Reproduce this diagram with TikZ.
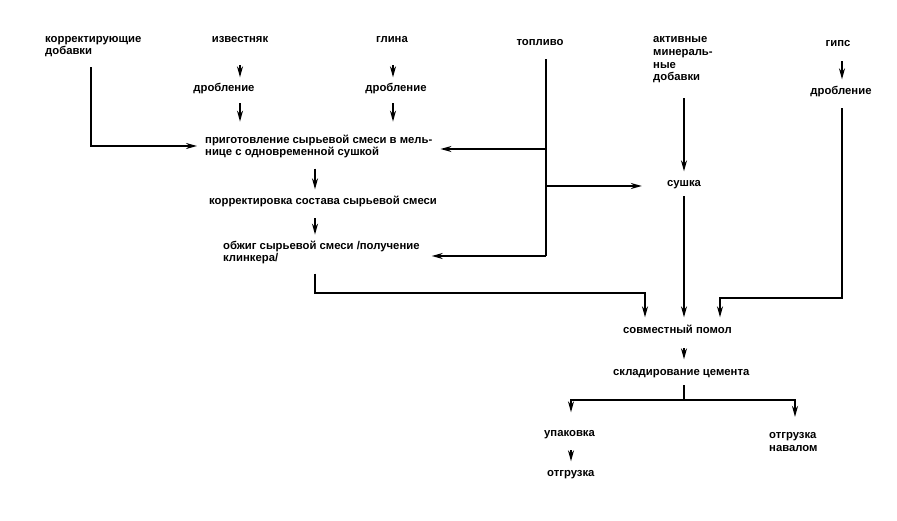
\documentclass[tikz,border=0pt]{standalone}
\usepackage{fontspec}
\setmainfont{Liberation Sans}
\usetikzlibrary{arrows.meta}
\begin{document}
\begin{tikzpicture}[x=1pt,y=-1pt,
  txt/.style={font=\fontsize{11.3}{12.8}\selectfont\bfseries, inner sep=0pt, align=left},
  one/.style={txt, text height=8.5pt, text depth=2.5pt},
  line/.style={line width=1.5pt},
  arr/.style={line width=1.5pt, -{Stealth[length=11pt,width=6pt]}}]
\useasboundingbox (0,0) rectangle (897,521);
% column coordinates
\coordinate (cA) at (91,0);
\coordinate (cB) at (240,0);
\coordinate (cC) at (393,0);
\coordinate (cD) at (315,0);
\coordinate (cT) at (546,0);
\coordinate (cE) at (684,0);
\coordinate (cF) at (842,0);
\coordinate (cG) at (645,0);
\coordinate (cH) at (720,0);
\coordinate (cL) at (571,0);
\coordinate (cR) at (795,0);
% nodes (multi-line nodes: base = baseline of last line)
\node[txt, anchor=base west] (korr) at (45,55) {корректирующие\\добавки};
\node[one, anchor=base] (izv) at (240,43) {известняк};
\node[one, anchor=base] (dr1) at (224,92) {дробление};
\node[one, anchor=base] (gl) at (392,43) {глина};
\node[one, anchor=base] (dr2) at (396,92) {дробление};
\node[one, anchor=base] (top) at (540,46) {топливо};
\node[txt, anchor=base west] (akt) at (653,81) {активные\\минераль-\\ные\\добавки};
\node[one, anchor=base] (gips) at (838,47) {гипс};
\node[one, anchor=base] (dr3) at (841,95) {дробление};
\node[txt, anchor=base west] (prig) at (205,156) {приготовление сырьевой смеси в мель-\\нице с одновременной сушкой};
\node[one, anchor=base west] (ksost) at (209,205) {корректировка состава сырьевой смеси};
\node[txt, anchor=base west] (obz) at (223,262) {обжиг сырьевой смеси /получение\\клинкера/};
\node[one, anchor=base] (sush) at (684,187) {сушка};
\node[one, anchor=base west] (sovm) at (623,334) {совместный помол};
\node[one, anchor=base west] (sklad) at (613,375) {складирование цемента};
\node[one, anchor=base west] (upak) at (544,436) {упаковка};
\node[one, anchor=base west] (otgr1) at (547,476) {отгрузка};
\node[txt, anchor=base west] (otgr2) at (769,451) {отгрузка\\навалом};
% junctions
\coordinate (k1) at (197,146);
\coordinate (t1) at (546,149);
\coordinate (t2) at (546,186);
\coordinate (t3) at (546,256);
\coordinate (h1) at (645,293);
\coordinate (g2) at (720,298);
\coordinate (s1) at (684,400);
% connectors
\draw[arr] ([yshift=-10pt]cA |- korr.south) |- (k1);
\draw[arr] ([yshift=-19.5pt]cB |- izv.south) -- ([yshift=6pt]cB |- dr1.north);
\draw[arr] ([yshift=-8.5pt]cB |- dr1.south) -- ([yshift=13pt]cB |- prig.north);
\draw[arr] ([yshift=-19.5pt]cC |- gl.south) -- ([yshift=6pt]cC |- dr2.north);
\draw[arr] ([yshift=-8.5pt]cC |- dr2.south) -- ([yshift=13pt]cC |- prig.north);
\draw[line] ([yshift=-10.5pt]cT |- top.south) -- (t3);
\draw[arr] (t1) -- ([xshift=8pt]t1 -| prig.east);
\draw[arr] (t2) -- ([xshift=-25pt]t2 -| sush.west);
\draw[arr] (t3) -- ([xshift=12pt]t3 -| obz.east);
\draw[arr] ([yshift=-15pt]cE |- akt.south) -- ([yshift=7pt]cE |- sush.north);
\draw[arr] ([yshift=-6.5pt]cE |- sush.south) -- ([yshift=8pt]cE |- sovm.north);
\draw[arr] ([yshift=-11.5pt]cF |- gips.south) -- ([yshift=7pt]cF |- dr3.north);
\draw[arr] ([yshift=-10.5pt]cF |- dr3.south) |- (g2) -- ([yshift=8pt]cH |- sovm.north);
\draw[arr] ([yshift=-10pt]cD |- prig.south) -- ([yshift=7pt]cD |- ksost.north);
\draw[arr] ([yshift=-10.5pt]cD |- ksost.south) -- ([yshift=6pt]cD |- obz.north);
\draw[arr] ([yshift=-9pt]cD |- obz.south) |- (h1) -- ([yshift=8pt]cG |- sovm.north);
\draw[arr] ([yshift=-11.5pt]cE |- sovm.south) -- ([yshift=7pt]cE |- sklad.north);
\draw[line] ([yshift=-7.5pt]cE |- sklad.south) -- (s1);
\draw[arr] (s1) -| ([yshift=15pt]cL |- upak.north);
\draw[arr] (s1) -| ([yshift=15pt]cR |- otgr2.north);
\draw[arr] ([yshift=-11.5pt]cL |- upak.south) -- ([yshift=6pt]cL |- otgr1.north);
\end{tikzpicture}
\end{document}
